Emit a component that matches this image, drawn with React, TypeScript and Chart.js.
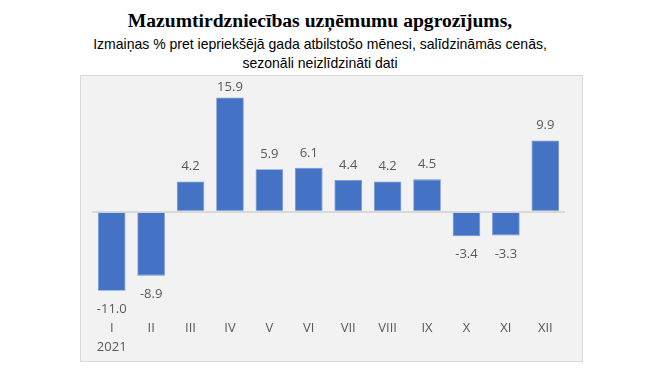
import React, { useEffect, useRef } from "react";
import { Chart, registerables } from "chart.js";

Chart.register(...registerables);

const TITLE = "Mazumtirdzniecības uzņēmumu apgrozījums,";
const SUBTITLE_1 = "Izmaiņas % pret iepriekšējā gada atbilstošo mēnesi, salīdzināmās cenās,";
const SUBTITLE_2 = "sezonāli neizlīdzināti dati";

const categories: (string | string[])[] = [
  ["I", "2021"], "II", "III", "IV", "V", "VI", "VII", "VIII", "IX", "X", "XI", "XII",
];
const values: number[] = [-11.0, -8.9, 4.2, 15.9, 5.9, 6.1, 4.4, 4.2, 4.5, -3.4, -3.3, 9.9];

const Y_MIN = -14.44;
const Y_MAX = 16;

const LABEL_COLOR = "#595959";
const BAR_COLOR = "#4472c4";

const valueLabels = {
  id: "valueLabels",
  afterDatasetsDraw(chart: any) {
    const ctx = chart.ctx;
    const meta = chart.getDatasetMeta(0);
    const area = chart.chartArea;
    ctx.save();
    ctx.font = "13px 'Open Sans'";
    ctx.fillStyle = LABEL_COLOR;
    ctx.textAlign = "center";
    ctx.textBaseline = "middle";
    meta.data.forEach((bar: any, i: number) => {
      const v = values[i];
      let y = v >= 0 ? bar.y - 15 : bar.y + 18.5;
      y = Math.max(y, area.top - 9.3);
      ctx.fillText(v.toFixed(1), bar.x, y);
    });
    ctx.restore();
  },
};

export default function App() {
  const ref = useRef<HTMLCanvasElement | null>(null);

  useEffect(() => {
    if (!ref.current) return;
    const chart = new Chart(ref.current, {
      type: "bar",
      data: {
        labels: categories,
        datasets: [
          {
            data: values,
            backgroundColor: BAR_COLOR,
            borderColor: "#6f93d6",
            borderWidth: 0.8,
            categoryPercentage: 1,
            barPercentage: 0.7,
          },
        ],
      },
      options: {
        responsive: true,
        maintainAspectRatio: false,
        animation: false,
        layout: { padding: { left: 11, right: 17, top: 20.66, bottom: 1.5 } },
        plugins: {
          legend: { display: false },
          tooltip: { enabled: false },
          title: { display: false },
        },
        scales: {
          x: {
            grid: { display: false, drawTicks: false },
            border: { display: false },
            ticks: {
              color: LABEL_COLOR,
              padding: 3,
              font: { family: "'Open Sans'", size: 13, lineHeight: 19 / 13 },
              maxRotation: 0,
              autoSkip: false,
            },
          },
          y: {
            min: Y_MIN,
            max: Y_MAX,
            display: true,
            border: { display: false },
            ticks: { display: false, stepSize: 1 },
            grid: {
              drawTicks: false,
              lineWidth: 2,
              color: (c: any) => (c.tick && c.tick.value === 0 ? "#d9d9d9" : "rgba(0,0,0,0)"),
            },
          },
        },
      },
      plugins: [valueLabels],
    });
    return () => chart.destroy();
  }, []);

  return (
    <div style={{ position: "absolute", left: 0, top: 0, width: 665, height: 375, background: "#fff" }}>
      <div
        style={{
          position: "absolute",
          left: 0,
          width: 640,
          top: 10,
          textAlign: "center",
          fontFamily: "'Liberation Serif', serif",
          fontWeight: "bold",
          fontSize: 19.6,
          lineHeight: "22px",
          color: "#000",
          whiteSpace: "nowrap",
        }}
      >
        {TITLE}
      </div>
      <div
        style={{
          position: "absolute",
          left: 0,
          width: 640,
          top: 34,
          textAlign: "center",
          fontFamily: "'Liberation Sans', Arial, sans-serif",
          fontSize: 15,
          lineHeight: "19px",
          color: "#000",
          whiteSpace: "nowrap",
          transform: "scaleX(0.935)",
          transformOrigin: "320px 0",
        }}
      >
        <div>{SUBTITLE_1}</div>
        <div>{SUBTITLE_2}</div>
      </div>
      <div
        style={{
          position: "absolute",
          left: 80,
          top: 75,
          width: 503,
          height: 287,
          boxSizing: "border-box",
          border: "1px solid #d9d9d9",
          background: "#f2f2f2",
        }}
      >
        <canvas ref={ref} />
      </div>
    </div>
  );
}
